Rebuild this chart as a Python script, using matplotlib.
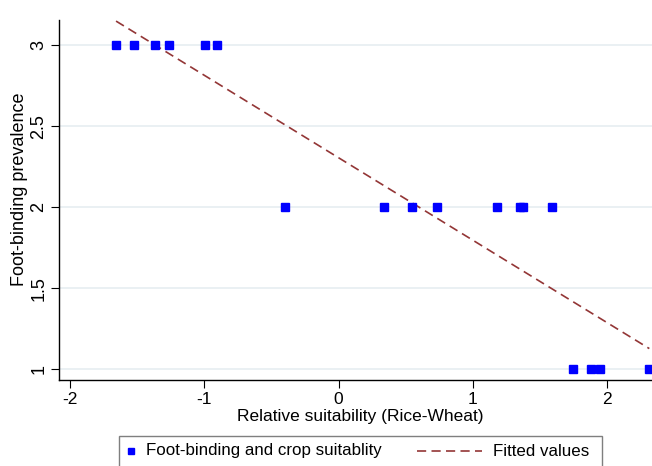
"""Foot-binding prevalence vs relative crop suitability, with OLS fitted line (-> out.png)."""
import numpy as np
import matplotlib
matplotlib.use("Agg")
import matplotlib.pyplot as plt
from matplotlib.lines import Line2D
from matplotlib.patches import Rectangle

plt.rcParams["font.family"] = ["Liberation Sans", "DejaVu Sans"]
plt.rcParams["axes.unicode_minus"] = False

# relative suitability (rice - wheat) and foot-binding prevalence
suit_high = [-1.659, -1.525, -1.366, -1.266, -0.995, -0.908]
suit_mid = [-0.398, 0.338, 0.550, 0.734, 1.181, 1.349, 1.371, 1.587]
suit_low = [1.746, 1.881, 1.948, 2.316]
prev_high = [3] * len(suit_high)
prev_mid = [2] * len(suit_mid)
prev_low = [1] * len(suit_low)

x = np.array(suit_high + suit_mid + suit_low, float)
y = np.array(prev_high + prev_mid + prev_low, float)

xticks = [-2, -1, 0, 1, 2]
yticks = [1, 1.5, 2, 2.5, 3]
ytick_labels = ["1", "1.5", "2", "2.5", "3"]

BLUE = "#0000ff"
FIT = "#933636"
GRID = "#e6eef1"

W, H = 652, 466
fig = plt.figure(figsize=(W / 100, H / 100), dpi=100)
ax = fig.add_axes([59.3 / W, 1 - 380.3 / H, (W - 59.3) / W, (380.3 - 20) / H])

slope, intercept = np.polyfit(x, y, 1)
xs = np.array([x.min(), x.max()])

for t in yticks:
    ax.axhline(t, color=GRID, lw=1.2, zorder=0)
ax.plot(x, y, "s", color=BLUE, ms=5.4, mec=BLUE, zorder=3)
ax.plot(xs, slope * xs + intercept, color=FIT, lw=1.2, dashes=(5.5, 3.2), zorder=2)

ax.set_xlim(-2.082, 2.336)
ax.set_ylim(0.932, 3.156)
ax.set_xticks(xticks)
ax.set_yticks(yticks)
ax.set_yticklabels(ytick_labels, rotation=90, va="center")
ax.tick_params(length=6, width=0.8, color="black")
ax.tick_params(axis="x", labelsize=12.5, pad=2.5)
ax.tick_params(axis="y", labelsize=13, pad=2.5)
for side in ("top", "right"):
    ax.spines[side].set_visible(False)
for side in ("left", "bottom"):
    ax.spines[side].set_linewidth(1.0)
ax.set_xlabel("Relative suitability (Rice-Wheat)", fontsize=12.5, va="center")
ax.set_ylabel("Foot-binding prevalence", fontsize=13, va="center")
ax.xaxis.set_label_coords((360 - 59.3) / (W - 59.3), (380.3 - 416) / 360.3)
ax.yaxis.set_label_coords((19 - 59.3) / (W - 59.3), (380.3 - 189) / 360.3)

# legend box (bottom edge is cut off in the original)
fig.add_artist(Rectangle((119.3 / W, -0.02), (602 - 119.3) / W, (1 - 436 / H) + 0.02,
                         transform=fig.transFigure, fill=False, ec="#7f7f7f", lw=1.0))
ly = 1 - 451 / H
fig.add_artist(Line2D([130.7 / W], [ly], marker="s", color=BLUE, ms=5, ls="none",
                      transform=fig.transFigure))
fig.text(145.5 / W, ly, "Foot-binding and crop suitablity", fontsize=12.2, va="center")
fig.add_artist(Line2D([416.7 / W, 481.7 / W], [ly, ly], color=FIT, lw=1.2, dashes=(5.5, 3.2),
                      transform=fig.transFigure))
fig.text(493 / W, ly, "Fitted values", fontsize=12.2, va="center")

fig.savefig("out.png", dpi=100)
